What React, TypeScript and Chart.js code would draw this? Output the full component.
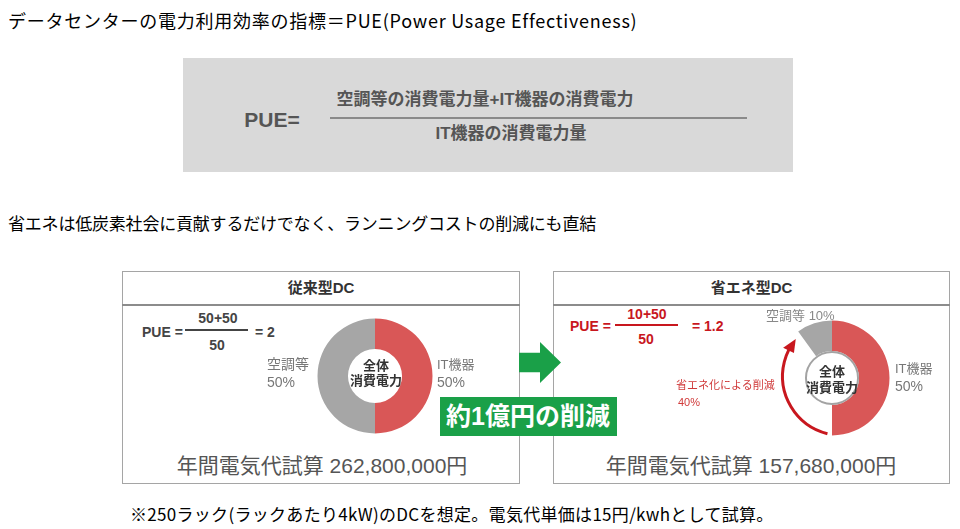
import React, { useEffect, useRef } from 'react';
import { Chart, registerables } from 'chart.js';

Chart.register(...registerables);

const JP = '"Noto Sans CJK JP", "Noto Sans", sans-serif';
const MIX = '"Liberation Sans", "Noto Sans CJK JP", sans-serif';

// ---- data ----
const conventionalLabels = ['IT機器', '空調等'];
const conventionalValues = [50, 50];
const efficientLabels = ['IT機器', '省エネ化による削減', '空調等'];
const efficientValues = [50, 40, 10];
const panelTitles = ['従来型DC', '省エネ型DC'];
const pueNumerators = ['50+50', '10+50'];
const pueDenominators = ['50', '50'];
const pueResults = ['= 2', '= 1.2'];
const annualCosts = ['262,800,000', '157,680,000'];
const reductionText = '約1億円の削減';

const RED = '#d95757';
const GRAY = '#a6a6a6';
const DARK_RED = '#c8171e';
const GREEN = '#1aa048';

const efficientOverlay = {
  id: 'efficientOverlay',
  afterDatasetsDraw(chart: any) {
    const arc = chart.getDatasetMeta(0).data[0];
    const { x, y, innerRadius, outerRadius } = arc.getProps(['x', 'y', 'innerRadius', 'outerRadius'], true);
    const ctx = chart.ctx;
    ctx.save();
    ctx.beginPath();
    ctx.arc(x, y, innerRadius - 1, 0, Math.PI * 2);
    ctx.strokeStyle = '#a3a3a3';
    ctx.lineWidth = 2;
    ctx.stroke();
    const ax = x + outerRadius * 0.17;
    const ay = y - outerRadius * 0.03;
    const r = outerRadius * 1.03;
    const d = Math.PI / 180;
    const a0 = 104 * d, a1 = 206 * d, aTip = 219 * d;
    ctx.beginPath();
    ctx.arc(ax, ay, r, a0, a1 + 1 * d);
    ctx.strokeStyle = DARK_RED;
    ctx.lineWidth = 3;
    ctx.stroke();
    const tx = ax + r * Math.cos(aTip), ty = ay + r * Math.sin(aTip);
    const bx = ax + r * Math.cos(a1), by = ay + r * Math.sin(a1);
    const nx = Math.cos(a1), ny = Math.sin(a1);
    const hw = 6;
    ctx.beginPath();
    ctx.moveTo(tx, ty);
    ctx.lineTo(bx + nx * hw, by + ny * hw);
    ctx.lineTo(bx - nx * hw, by - ny * hw);
    ctx.closePath();
    ctx.fillStyle = DARK_RED;
    ctx.fill();
    ctx.restore();
  },
};

function Donut(props: { labels: string[]; values: number[]; colors: string[]; cx: number; cy: number; plugins?: any[] }) {
  const ref = useRef<HTMLCanvasElement>(null);
  const size = 150;
  useEffect(() => {
    const chart = new Chart(ref.current as HTMLCanvasElement, {
      type: 'doughnut',
      data: {
        labels: props.labels,
        datasets: [{ data: props.values, backgroundColor: props.colors, borderWidth: 0 }],
      },
      options: {
        responsive: false,
        animation: false,
        events: [],
        radius: 57.5,
        cutout: '47%',
        layout: { padding: 0 },
        plugins: { legend: { display: false }, tooltip: { enabled: false } },
      } as any,
      plugins: props.plugins || [],
    });
    return () => chart.destroy();
  }, []);
  return (
    <canvas
      ref={ref}
      width={size}
      height={size}
      style={{ position: 'absolute', left: props.cx - size / 2, top: props.cy - size / 2, width: size, height: size }}
    />
  );
}

function T(props: { x: number; y: number; children: any; size: number; weight?: number; color?: string; align?: string; family?: string; style?: any }) {
  const tx = props.align === 'center' ? '-50%' : props.align === 'right' ? '-100%' : '0';
  return (
    <div
      style={{
        position: 'absolute',
        left: props.x,
        top: props.y,
        transform: `translate(${tx}, -50%)`,
        fontSize: props.size,
        fontWeight: props.weight || 400,
        color: props.color || '#000',
        fontFamily: props.family || JP,
        whiteSpace: 'nowrap',
        lineHeight: 1,
        ...(props.style || {}),
      }}
    >
      {props.children}
    </div>
  );
}

function Line(props: { x1: number; x2: number; y: number; color: string; w?: number }) {
  return <div style={{ position: 'absolute', left: props.x1, top: props.y - (props.w || 1.5) / 2, width: props.x2 - props.x1, height: props.w || 1.5, background: props.color }} />;
}

function Panel(props: { x: number; w: number; title: string }) {
  return (
    <>
      <div style={{ position: 'absolute', left: props.x, top: 271, width: props.w, height: 213, border: '1.5px solid #a5a5a5', boxSizing: 'border-box' }} />
      <Line x1={props.x} x2={props.x + props.w} y={305} color="#8c8c8c" w={2} />
      <T x={props.x + props.w / 2} y={287} size={15} weight={700} color="#333" align="center" family={MIX}>{props.title}</T>
    </>
  );
}

export default function App() {
  return (
    <div style={{ position: 'absolute', left: 0, top: 0, width: 960, height: 529, background: '#fff', overflow: 'hidden' }}>
      <T x={8} y={20} size={18} style={{ letterSpacing: '0.75px' }}>データセンターの電力利用効率の指標＝PUE(Power Usage Effectiveness)</T>

      <div style={{ position: 'absolute', left: 183, top: 58, width: 610, height: 114, background: '#d9d9d9' }} />
      <T x={272} y={119} size={21} weight={700} color="#555" align="center" family={MIX}>PUE=</T>
      <T x={485} y={99} size={17} weight={700} color="#555" align="center" family={MIX}>空調等の消費電力量+IT機器の消費電力</T>
      <Line x1={330} x2={747} y={118} color="#8a8a8a" w={1.5} />
      <T x={511} y={133} size={17} weight={700} color="#555" align="center" family={MIX}>IT機器の消費電力量</T>

      <T x={8} y={222} size={17} style={{ letterSpacing: '-0.2px' }}>省エネは低炭素社会に貢献するだけでなく、ランニングコストの削減にも直結</T>

      <Panel x={122} w={398} title={panelTitles[0]} />
      <Panel x={553} w={397} title={panelTitles[1]} />

      {/* conventional */}
      <T x={142} y={332} size={14} weight={700} color="#444" family={MIX}>PUE =</T>
      <T x={218} y={318} size={14} weight={700} color="#444" align="center" family={MIX}>{pueNumerators[0]}</T>
      <Line x1={185} x2={248} y={330} color="#444" w={1.5} />
      <T x={217} y={345} size={14} weight={700} color="#444" align="center" family={MIX}>{pueDenominators[0]}</T>
      <T x={255} y={332} size={14} weight={700} color="#444" family={MIX}>{pueResults[0]}</T>

      <Donut labels={conventionalLabels} values={conventionalValues} colors={[RED, GRAY]} cx={375} cy={376} />
      <T x={376} y={365} size={13} weight={700} color="#333" align="center" family={MIX}>全体</T>
      <T x={376} y={380} size={13} weight={700} color="#333" align="center" family={MIX}>消費電力</T>
      <T x={267} y={364} size={14} color="#777" family={MIX}>{conventionalLabels[1]}</T>
      <T x={267} y={382} size={14} color="#777" family={MIX}>{conventionalValues[1]}%</T>
      <T x={437} y={364} size={13} color="#777" family={MIX}>{conventionalLabels[0]}</T>
      <T x={437} y={382} size={14} color="#777" family={MIX}>{conventionalValues[0]}%</T>

      <T x={322} y={465} size={21} color="#555" align="center" family={MIX}>年間電気代試算 {annualCosts[0]}円</T>

      {/* efficient */}
      <T x={570} y={326} size={14} weight={700} color={DARK_RED} family={MIX}>PUE =</T>
      <T x={647} y={314} size={14} weight={700} color={DARK_RED} align="center" family={MIX}>{pueNumerators[1]}</T>
      <Line x1={615} x2={678} y={325} color={DARK_RED} w={1.5} />
      <T x={646} y={339} size={14} weight={700} color={DARK_RED} align="center" family={MIX}>{pueDenominators[1]}</T>
      <T x={692} y={326} size={14} weight={700} color={DARK_RED} family={MIX}>{pueResults[1]}</T>

      <Donut labels={efficientLabels} values={efficientValues} colors={[RED, 'rgba(0,0,0,0)', GRAY]} cx={832} cy={378} plugins={[efficientOverlay]} />
      <T x={832} y={371} size={13} weight={700} color="#333" align="center" family={MIX}>全体</T>
      <T x={832} y={387} size={13} weight={700} color="#333" align="center" family={MIX}>消費電力</T>
      <T x={766} y={315} size={13} color="#888" family={MIX}>{efficientLabels[2]} {efficientValues[2]}%</T>
      <T x={895} y={368} size={13} color="#777" family={MIX}>{efficientLabels[0]}</T>
      <T x={895} y={386} size={14} color="#777" family={MIX}>{efficientValues[0]}%</T>
      <T x={676} y={385} size={11} color="#d03a3a" family={MIX}>{efficientLabels[1]}</T>
      <T x={678} y={402} size={11} color="#d03a3a" family={MIX}>{efficientValues[1]}%</T>

      <T x={751} y={465} size={21} color="#555" align="center" family={MIX}>年間電気代試算 {annualCosts[1]}円</T>

      {/* arrow and banner */}
      <div style={{ position: 'absolute', left: 519, top: 342, width: 42, height: 41, background: GREEN, clipPath: 'polygon(0 26%, 50% 26%, 50% 0, 100% 50%, 50% 100%, 50% 74%, 0 74%)' }} />
      <div style={{ position: 'absolute', left: 440, top: 397, width: 177, height: 39, background: GREEN }} />
      <T x={528} y={416} size={25} weight={700} color="#fff" align="center" family={MIX}>{reductionText}</T>

      <T x={130} y={513} size={17} style={{ letterSpacing: '0.3px' }}>※250ラック(ラックあたり4kW)のDCを想定。電気代単価は15円/kwhとして試算。</T>
    </div>
  );
}
